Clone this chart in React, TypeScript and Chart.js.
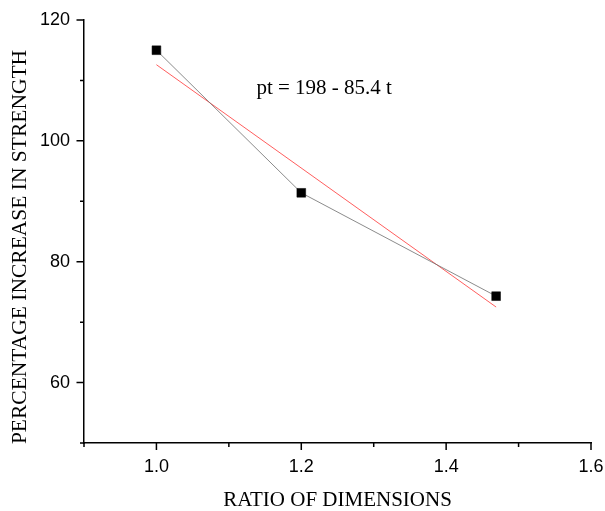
import React, { useEffect, useRef } from 'react';
import { Chart, registerables } from 'chart.js';

Chart.register(...registerables);

// ---- data ----
const ratios = [1.0, 1.2, 1.469];
const strengthIncrease = [115.0, 91.4, 74.3];
const fitX = [1.0, 1.469];
const fitY = [112.6, 72.5];
const xLabelledTicks = [1.0, 1.2, 1.4, 1.6];
const yLabelledTicks = [60, 80, 100, 120];
const xRange = [0.9, 1.6];
const yRange = [50, 120];
const equationText = 'pt = 198 - 85.4 t';
const equationAt = { x: 1.138, y: 108.7 };
const xTitle = 'RATIO OF DIMENSIONS';
const yTitle = 'PERCENTAGE INCREASE IN STRENGTH';

const SERIF = '"Liberation Serif", "Times New Roman", serif';
const SANS = '"Liberation Sans", Arial, sans-serif';

const near = (a: number, list: number[]) => list.some((v) => Math.abs(v - a) < 1e-6);

const ticksPlugin = {
  id: 'customTicks',
  afterDraw(chart: any) {
    const { ctx } = chart;
    const xs = chart.scales.x;
    const ys = chart.scales.y;
    ctx.save();
    ctx.strokeStyle = '#000';
    ctx.lineWidth = 1.5;
    ctx.beginPath();
    xs.ticks.forEach((t: any) => {
      const px = xs.getPixelForValue(t.value);
      const len = near(t.value, xLabelledTicks) ? 7 : 4;
      ctx.moveTo(px, xs.top);
      ctx.lineTo(px, xs.top + len);
    });
    ys.ticks.forEach((t: any) => {
      const py = ys.getPixelForValue(t.value);
      const len = near(t.value, yLabelledTicks) ? 7.5 : 4;
      ctx.moveTo(ys.right, py);
      ctx.lineTo(ys.right - len, py);
    });
    ctx.stroke();
    ctx.fillStyle = '#000';
    // equation annotation
    ctx.font = `21px ${SERIF}`;
    ctx.textAlign = 'left';
    ctx.textBaseline = 'middle';
    ctx.fillText(equationText, xs.getPixelForValue(equationAt.x), ys.getPixelForValue(equationAt.y));
    // y axis title
    ctx.save();
    ctx.translate(20, (ys.top + ys.bottom) / 2 + 15.5);
    ctx.rotate(-Math.PI / 2);
    ctx.font = `21.5px ${SERIF}`;
    ctx.textAlign = 'center';
    ctx.textBaseline = 'middle';
    ctx.fillText(yTitle, 0, 0);
    ctx.restore();
    ctx.restore();
  },
};

export default function App() {
  const canvasRef = useRef<HTMLCanvasElement | null>(null);

  useEffect(() => {
    if (!canvasRef.current) return;
    const chart = new Chart(canvasRef.current, {
      type: 'scatter',
      data: {
        datasets: [
          {
            label: 'fit',
            data: fitX.map((x, i) => ({ x, y: fitY[i] })),
            showLine: true,
            borderColor: 'rgba(255,40,40,0.75)',
            borderWidth: 1,
            pointRadius: 0,
            order: 2,
          },
          {
            label: 'measured',
            data: ratios.map((x, i) => ({ x, y: strengthIncrease[i] })),
            showLine: true,
            borderColor: 'rgba(110,110,110,0.8)',
            borderWidth: 1,
            pointStyle: 'rect',
            pointRadius: 6.2,
            pointBorderWidth: 0.5,
            pointBackgroundColor: '#000',
            pointBorderColor: '#000',
            order: 1,
          },
        ],
      },
      options: {
        responsive: false,
        animation: false,
        devicePixelRatio: 1,
        layout: { padding: { top: 20, right: 14, left: 0, bottom: 0 } },
        plugins: {
          legend: { display: false },
          tooltip: { enabled: false },
        },
        scales: {
          x: {
            type: 'linear',
            min: xRange[0],
            max: xRange[1],
            afterFit: (s: any) => {
              s.height = 68;
              s.paddingLeft = 0;
              s.paddingRight = 0;
            },
            ticks: {
              stepSize: 0.1,
              padding: 13,
              color: '#000',
              font: { family: SANS, size: 18 },
              autoSkip: false,
              maxRotation: 0,
              callback: (v: any) => (near(Number(v), xLabelledTicks) ? Number(v).toFixed(1) : ''),
            },
            grid: { display: false, drawTicks: false },
            border: { display: true, color: '#000', width: 1.5 },
            title: {
              display: true,
              text: xTitle,
              color: '#000',
              font: { family: SERIF, size: 21 },
              padding: { top: 0, bottom: -2 },
            },
          },
          y: {
            type: 'linear',
            min: yRange[0],
            max: yRange[1],
            afterFit: (s: any) => {
              s.width = 84;
              s.paddingTop = 0;
              s.paddingBottom = 0;
            },
            ticks: {
              stepSize: 10,
              padding: 14,
              color: '#000',
              font: { family: SANS, size: 18 },
              autoSkip: false,
              callback: (v: any) => (near(Number(v), yLabelledTicks) ? String(v) : ''),
            },
            grid: { display: false, drawTicks: false },
            border: { display: true, color: '#000', width: 1.5 },
            title: { display: false, text: yTitle },
          },
        },
      },
      plugins: [ticksPlugin],
    });
    return () => chart.destroy();
  }, []);

  return (
    <div style={{ position: 'absolute', left: 0, top: 0, width: 605, height: 511, background: '#fff' }}>
      <canvas ref={canvasRef} width={605} height={511} style={{ width: 605, height: 511 }} />
    </div>
  );
}
